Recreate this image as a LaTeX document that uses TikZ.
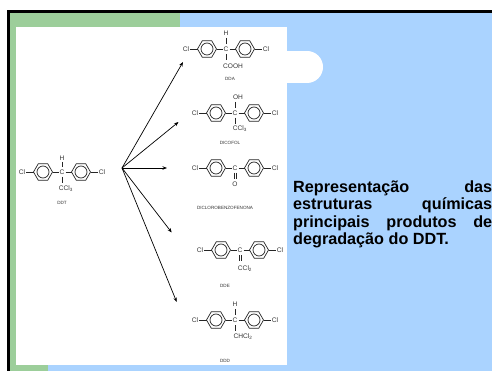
\documentclass[tikz,border=0pt]{standalone}
\usepackage{fontspec}
\setmainfont{Liberation Sans}
\usetikzlibrary{arrows.meta,calc}
\definecolor{bgblue}{HTML}{AAD3FF}
\definecolor{bggreen}{HTML}{9CCE9A}
\definecolor{inkgray}{HTML}{333333}
\tikzset{
  atom/.style={inner sep=0pt,text=inkgray,font=\fontsize{6.6}{7}\selectfont},
  caption/.style={inner sep=0pt,text=inkgray,font=\fontsize{4.6}{5}\selectfont},
  bond/.style={draw=black!85,line width=0.7pt},
  arrowline/.style={draw=black,line width=0.7pt,-{Stealth[length=4.5pt,width=3.5pt]}},
  para/.style={inner sep=0pt,anchor=north west,text width=199pt,align=justify,
    font=\fontsize{16.2}{17.5}\bfseries\selectfont},
}
% #1 name, #2 position of central C
\newcommand{\diaryl}[2]{%
  \begin{scope}[shift={#2}]
    \node[atom] (#1C) at (0,0) {C};
    \node[atom] (#1L) at (-40,0) {Cl};
    \node[atom] (#1R) at (40,0) {Cl};
    \foreach \cx in {-19,19}{
      \draw[bond] (\cx-9.5,0) -- (\cx-4.75,8.2) -- (\cx+4.75,8.2) -- (\cx+9.5,0) -- (\cx+4.75,-8.2) -- (\cx-4.75,-8.2) -- cycle;
      \draw[bond] (\cx,0) circle (6);
    }
    \draw[bond] (-36,0) -- (-28.5,0);
    \draw[bond] (-9.5,0) -- (-3.5,0);
    \draw[bond] (3.5,0) -- (9.5,0);
    \draw[bond] (28.5,0) -- (36,0);
  \end{scope}}
\begin{document}
\begin{tikzpicture}[x=1pt,y=-1pt]
\useasboundingbox (0,0) rectangle (492,371);
% background
\fill[white] (0,0) rectangle (492,371);
\fill[bgblue] (7,10) rectangle (492,371);
\fill[bggreen] (7,10) rectangle (180,27);
\fill[bggreen] (7,10) rectangle (16,371);
\fill[bggreen] (7,365) rectangle (48,371);
\fill[black] (7,10) rectangle (492,13);
\fill[black] (7,10) rectangle (10,371);
\fill[white] (16,27) rectangle (287,365);
\fill[white] (287,51) rectangle (307,83);
\fill[white] (307,67) circle (16);
% DDT
\diaryl{ddt}{(62,172)}
\node[atom] (ddtT) at (62,158) {H};
\node[atom] (ddtB) at (66,188.7) {CCl\textsubscript{3}};
\node[caption] (ddtN) at (62,203) {DDT};
\draw[bond] (62,162) -- (62,167);
\draw[bond] (62,177) -- (62,183);
% DDA
\diaryl{dda}{(226,49)}
\node[atom] (ddaT) at (226,33) {H};
\node[atom] (ddaB) at (233,66.5) {COOH};
\node[caption] (ddaN) at (230,79) {DDA};
\draw[bond] (226,38) -- (226,44);
\draw[bond] (226,54) -- (226,60);
% DICOFOL
\diaryl{dic}{(235,113)}
\node[atom] (dicT) at (238,97.5) {OH};
\node[atom] (dicB) at (240,129) {CCl\textsubscript{3}};
\node[caption] (dicN) at (230,143) {DICOFOL};
\draw[bond] (235,102) -- (235,108);
\draw[bond] (235,118) -- (235,124);
% DICLOROBENZOFENONA
\diaryl{dcb}{(235,168)}
\node[atom] (dcbB) at (235,184) {O};
\node[caption] (dcbN) at (225,208) {DICLOROBENZOFENONA};
\draw[bond] (234,173) -- (234,179);
\draw[bond] (236,173) -- (236,179);
% DDE
\diaryl{dde}{(240,250)}
\node[atom] (ddeT) at (240,245.3) {\fontsize{5}{5}\selectfont$\cdot$};
\node[atom] (ddeB) at (245,269) {CCl\textsubscript{2}};
\node[caption] (ddeN) at (225,286) {DDE};
\draw[bond] (239.2,255) -- (239.2,261);
\draw[bond] (241.2,255) -- (241.2,261);
% DDD
\diaryl{ddd}{(235,320)}
\node[atom] (dddT) at (235,304) {H};
\node[atom] (dddB) at (243,337) {CHCl\textsubscript{2}};
\node[caption] (dddN) at (225,361) {DDD};
\draw[bond] (235,309) -- (235,315);
\draw[bond] (235,325) -- (235,331);
% arrows
\coordinate (src) at (122,168);
\coordinate (a1) at (183,62);
\coordinate (a2) at (178.5,122);
\coordinate (a3) at (167,168);
\coordinate (a4) at (171.7,232.5);
\coordinate (a5) at (176.7,302);
\foreach \t in {a1,a2,a3,a4,a5} \draw[arrowline] (src) -- (\t);
% text
\node[para] (txt) at (293,180.5) {Representação das\linebreak estruturas químicas\linebreak principais produtos de\linebreak degradação do DDT.};
\end{tikzpicture}
\end{document}
